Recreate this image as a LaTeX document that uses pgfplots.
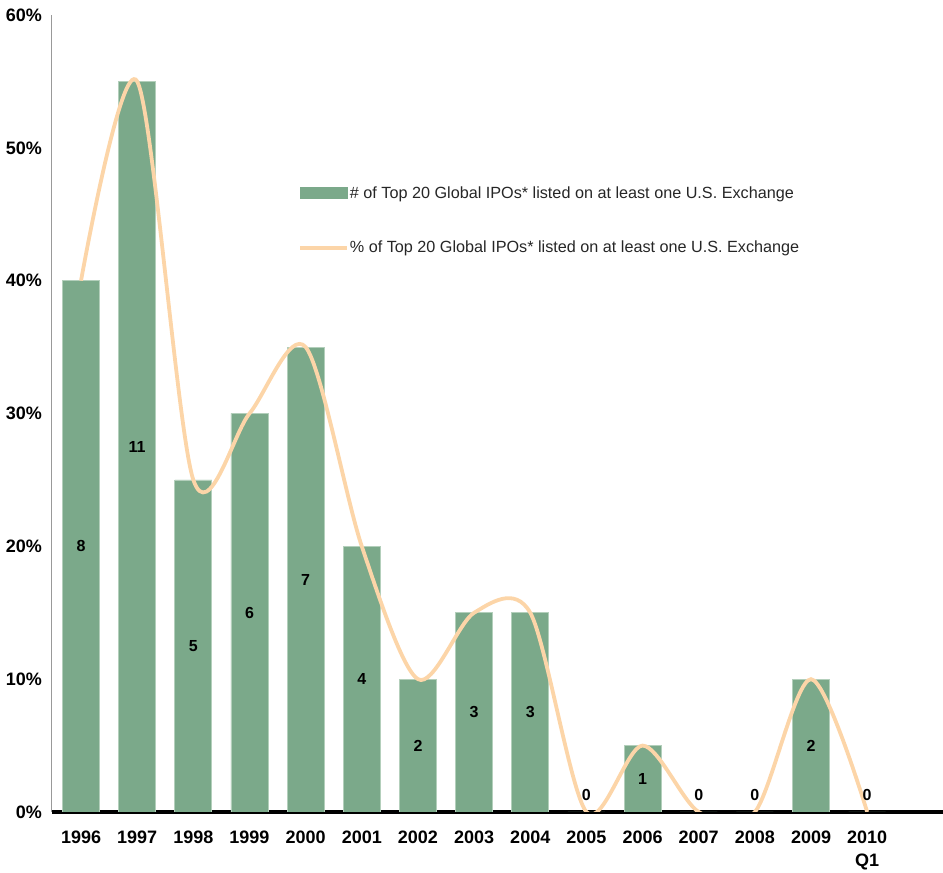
\documentclass[border=0pt]{standalone}
\usepackage{fontspec}
\setmainfont{Liberation Sans}
\usepackage{pgfplots}
\pgfplotsset{compat=1.18}
\usetikzlibrary{calc}
\definecolor{barg}{HTML}{7BA98A}
\definecolor{barb}{HTML}{B3CFBB}
\definecolor{linec}{HTML}{FCD5A8}
\begin{document}
\begin{tikzpicture}
\begin{axis}[
  scale only axis,
  width=891pt, height=797pt,
  xmin=-0.517, xmax=15.35,
  ymin=0, ymax=60,
  axis x line*=bottom, axis y line*=left,
  x axis line style={-, line width=4pt, black},
  y axis line style={-, line width=1pt, black!40},
  major tick length=0pt,
  xtick={0,...,14},
  xticklabels={1996,1997,1998,1999,2000,2001,2002,2003,2004,2005,2006,2007,2008,2009,{2010\\Q1}},
  ytick={0,10,20,30,40,50,60},
  yticklabels={0\%,10\%,20\%,30\%,40\%,50\%,60\%},
  xticklabel style={font=\fontsize{18}{23}\selectfont\bfseries, align=center, anchor=north, inner sep=0pt, yshift=-19pt},
  yticklabel style={font=\fontsize{18}{20}\selectfont\bfseries, anchor=east, inner sep=0pt, xshift=-10pt},
  clip=true,
  legend style={at={(rel axis cs:0.276,0.786)}, anchor=north west, draw=none, fill=none,
    font=\fontsize{16.2}{18}\selectfont, text=black!85, row sep=39pt, inner sep=0pt,
    nodes={inner sep=1pt}},
  legend cell align=left,
]
\addplot[ybar, bar width=0.66, fill=barg, draw=barb, line width=0.8pt,
  legend image code/.code={\fill[barg] (0pt,-5.5pt) rectangle (47pt,5.5pt);}]
  coordinates {(0,40) (1,55) (2,25) (3,30) (4,35) (5,20) (6,10) (7,15) (8,15) (9,0) (10,5) (11,0) (12,0) (13,10) (14,0)};
\addlegendentry{\# of Top 20 Global IPOs* listed on at least one U.S. Exchange}
\addplot[smooth, color=linec, line width=3.8pt,
  legend image code/.code={\draw[linec, line width=3.8pt] (0pt,0pt) -- (47pt,0pt);}]
  coordinates {(0,40) (1,55) (2,25) (3,30) (4,35) (5,20) (6,10) (7,15) (8,15) (9,0) (10,5) (11,0) (12,0) (13,10) (14,0)};
\addlegendentry{\% of Top 20 Global IPOs* listed on at least one U.S. Exchange}
\addplot[draw=none, mark=none, forget plot, nodes near coords, point meta=explicit symbolic,
  nodes near coords style={font=\fontsize{16}{18}\selectfont\bfseries, anchor=center, text=black}]
  table[meta=lab] {
x y lab
0 20 8
1 27.5 11
2 12.5 5
3 15 6
4 17.5 7
5 10 4
6 5 2
7 7.5 3
8 7.5 3
9 1.3 0
10 2.5 1
11 1.3 0
12 1.3 0
13 5 2
14 1.3 0
};
\end{axis}
\pgfresetboundingbox
\path ($(current axis.south west)+(-52pt,-61pt)$) rectangle ($(current axis.north east)+(0pt,15pt)$);
\end{tikzpicture}
\end{document}
